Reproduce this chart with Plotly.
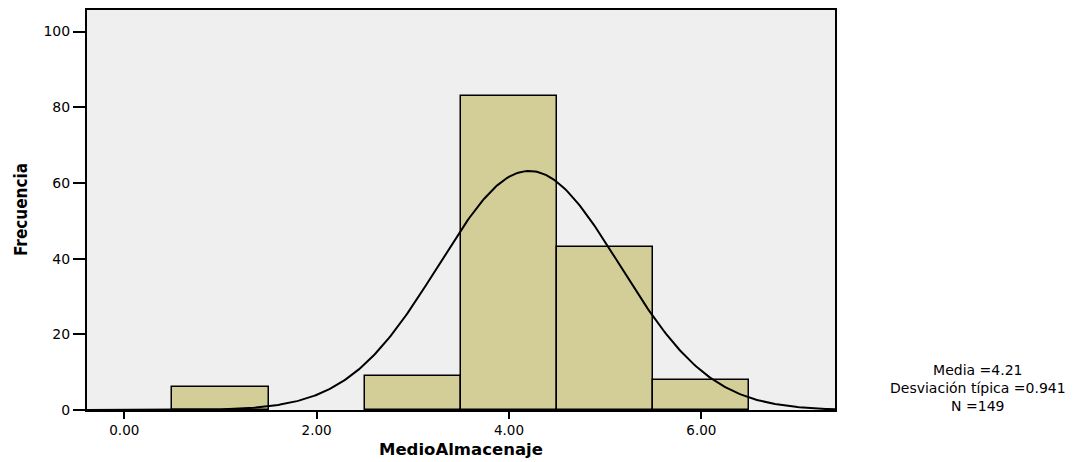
import numpy as np
import plotly.graph_objects as go

# Data
bin_centers = [1.0, 3.0, 4.0, 5.0, 6.0]
bin_counts = [6, 9, 83, 43, 8]
bin_width = 1.0
x_ticks = [0, 2, 4, 6]
x_tick_labels = ["0.00", "2.00", "4.00", "6.00"]
y_ticks = [0, 20, 40, 60, 80, 100]
stat_mean = 4.21
stat_sd = 0.941
stat_n = 149
stat_lines = ["Media =4.21", "Desviación típica =0.941", "N =149"]

x_range = [-0.388, 7.39]
y_range = [0, 105.7]

# fitted normal curve from the displayed statistics
cx = np.linspace(x_range[0], x_range[1], 400)
cy = stat_n * bin_width / (stat_sd * np.sqrt(2 * np.pi)) * np.exp(-0.5 * ((cx - stat_mean) / stat_sd) ** 2)

fig = go.Figure()
fig.add_trace(go.Bar(
    x=bin_centers, y=bin_counts, width=bin_width,
    marker=dict(color="rgb(211,206,151)", line=dict(color="black", width=1.5)),
    showlegend=False, hoverinfo="x+y",
))
fig.add_trace(go.Scatter(
    x=cx, y=cy, mode="lines", line=dict(color="black", width=2),
    showlegend=False, hoverinfo="skip",
))

tick_font = dict(family="DejaVu Sans, Liberation Sans, Arial", size=14, color="black")

fig.update_layout(
    width=1090, height=462,
    margin=dict(l=87, r=255, t=8, b=52),
    paper_bgcolor="white",
    plot_bgcolor="#EFEFEF",
    bargap=0,
    xaxis=dict(
        range=x_range, tickmode="array", tickvals=x_ticks, ticktext=x_tick_labels,
        ticks="outside", ticklen=7, tickwidth=2, tickcolor="black",
        showline=True, linecolor="black", linewidth=2, mirror=True,
        showgrid=False, zeroline=False, tickfont=dict(tick_font, size=13.5),
    ),
    yaxis=dict(
        range=y_range, tickmode="array", tickvals=y_ticks,
        ticks="outside", ticklen=12, tickwidth=2, tickcolor="black",
        showline=True, linecolor="black", linewidth=2, mirror=True,
        showgrid=False, zeroline=False, tickfont=tick_font,
    ),
)

annotations = [
    dict(text="<b>MedioAlmacenaje</b>", xref="paper", yref="paper", x=0.5, y=0,
         xanchor="center", yanchor="bottom", yshift=-51, showarrow=False,
         font=dict(family="DejaVu Sans, Liberation Sans, Arial", size=16.5, color="black")),
    dict(text="<b>Frecuencia</b>", xref="paper", yref="paper", x=0, y=0.5,
         xanchor="center", yanchor="middle", xshift=-66, textangle=-90, showarrow=False,
         font=dict(family="DejaVu Sans Condensed, Liberation Sans, Arial", size=17, color="black")),
    dict(text="<br>".join(stat_lines), xref="paper", yref="paper", x=1, y=0,
         xanchor="center", yanchor="middle", align="center",
         xshift=142.5, yshift=22.5, showarrow=False,
         font=dict(family="DejaVu Sans, Liberation Sans, Arial", size=14, color="black")),
]
fig.update_layout(annotations=annotations)

fig.write_html("out.html")
